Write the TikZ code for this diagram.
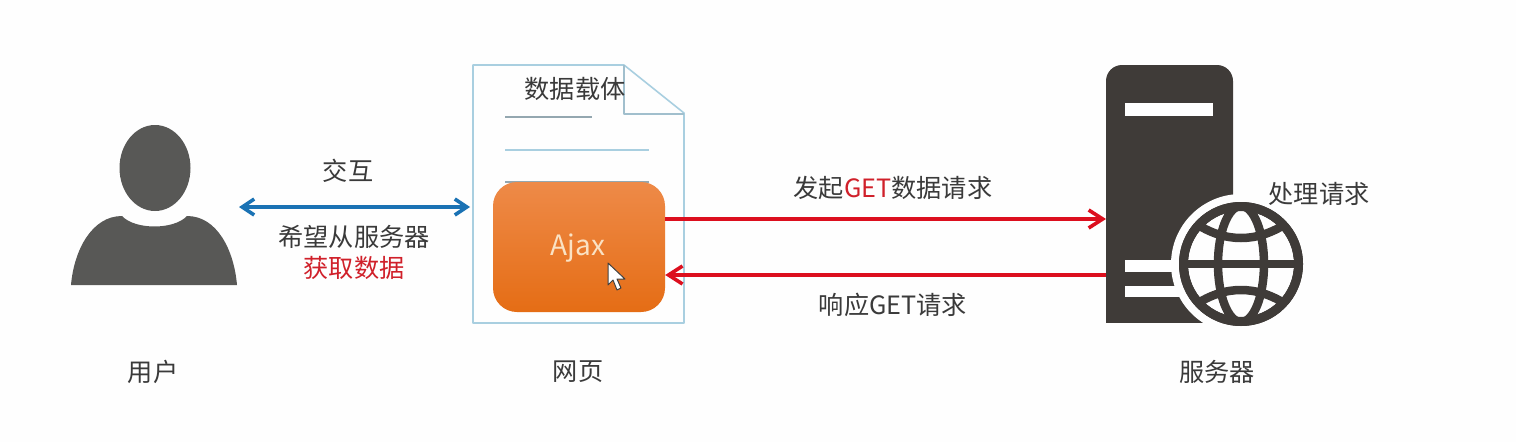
\documentclass[tikz,border=0pt]{standalone}
\usepackage{fontspec}
\setmainfont{Noto Sans CJK SC}
\usetikzlibrary{arrows.meta}
\definecolor{txt}{HTML}{3A3A3A}
\definecolor{redt}{HTML}{D0202A}
\definecolor{arrowred}{HTML}{DC0F1E}
\definecolor{arrowblue}{HTML}{1A72B4}
\definecolor{person}{HTML}{585856}
\definecolor{srv}{HTML}{3F3B38}
\definecolor{docline}{HTML}{A9CFE0}
\definecolor{paper}{HTML}{FEFEFE}
\tikzset{
  lbl/.style={font=\fontsize{25.2}{28}\selectfont,text=txt,inner sep=0pt},
  linkarrow/.style={line width=3.6pt,{Straight Barb[length=12pt,width=16pt,line width=3.6pt]}-{Straight Barb[length=12pt,width=16pt,line width=3.6pt]}},
  oneway/.style={line width=3.6pt,-{Straight Barb[length=14pt,width=18pt,line width=3.6pt]}},
  docstroke/.style={draw=docline,line width=1.6pt,line join=round},
  globeline/.style={draw=srv,line width=8.5pt},
}
\begin{document}
\begin{tikzpicture}[x=1pt,y=-1pt]
\useasboundingbox (0,0) rectangle (1516,442);
\fill[paper] (0,0) rectangle (1516,442);

% user
\fill[person] (155,168) ellipse [x radius=35.5,y radius=43];
\fill[person] (71,285) .. controls (74,250) and (92,216) .. (122,216)
  .. controls (135,230) and (174,230) .. (187,216)
  .. controls (217,216) and (234,250) .. (237,285) -- cycle;

% page
\draw[docstroke] (473,65) -- (624,65) -- (684,113) -- (684,323) -- (473,323) -- cycle;
\draw[docstroke,draw=docline!80!gray] (624,65) -- (624,114) -- (684,114);
\draw[draw=docline!50!gray,line width=1.5pt] (505,117) -- (592,117);
\draw[draw=docline,line width=1.5pt] (505,150) -- (649,150);
\draw[draw=docline!50!gray,line width=1.5pt] (505,182) -- (649,182);
\node[lbl] (payload) at (575,89) {数据载体};

% Ajax box
\node[minimum width=172pt,minimum height=130pt,inner sep=0pt,rounded corners=24pt,
  shade,top color={rgb,255:red,238;green,138;blue,72},
  middle color={rgb,255:red,241;green,122;blue,36},
  bottom color={rgb,255:red,229;green,109;blue,21}] (ajax) at (579,247) {};
\node[font=\fontsize{28}{30}\selectfont,text={rgb,255:red,250;green,226;blue,196},inner sep=0pt] (ajaxtext) at (578,248) {Ajax};
% cursor
\filldraw[fill=white,draw=black!75,line width=1pt,line join=round]
  (608,263) -- (608,285) -- (613,280) -- (617,290) -- (621,288) -- (617,279) -- (625,279) -- cycle;

% server
\fill[srv,rounded corners=16pt] (1106,340) -- (1106,65) -- (1233,65) -- (1233,340) -- cycle;
\fill[paper] (1100,323) rectangle (1240,345);
\fill[white] (1125,103) rectangle (1213,116);
\fill[white] (1125,260) rectangle (1180,272);
\fill[white] (1125,286) rectangle (1180,297);
\fill[paper] (1241,264) circle [radius=70];
\fill[srv] (1241,264) circle [radius=62];
\fill[paper] (1241,264) circle [radius=53];
\begin{scope}
  \clip (1241,264) circle [radius=55];
  \draw[globeline] (1180,264) -- (1302,264);
  \draw[globeline] (1241,264) ellipse [x radius=23,y radius=58];
  \draw[globeline] (1195,223) .. controls (1225,243) and (1257,243) .. (1287,223);
  \draw[globeline] (1195,305) .. controls (1225,285) and (1257,285) .. (1287,305);
\end{scope}
\draw[srv,line width=9pt] (1241,264) circle [radius=57.5];

% connector ends
\coordinate (userEnd) at (239,207);
\coordinate (pageEnd) at (470,207);
\coordinate (reqStart) at (ajax.east |- 0,219);
\coordinate (reqEnd) at (1106,219);
\coordinate (respStart) at (1106,275);
\coordinate (respEnd) at (ajax.east |- 0,275);

\draw[linkarrow,arrowblue] (userEnd) -- (pageEnd);
\draw[oneway,arrowred] (reqStart) -- (reqEnd);
\draw[oneway,arrowred] (respStart) -- (respEnd);

% labels
\node[lbl] (hudong) at (348,171) {交互};
\node[lbl] (want) at (354,237) {希望从服务器};
\node[lbl,text=redt] (get) at (354,268) {获取数据};
\node[lbl] (send) at (893,188) {发起{\color{redt}GET}数据请求};
\node[lbl] (respond) at (893,305) {响应GET请求};
\node[lbl] (proc) at (1319,194) {处理请求};
\node[lbl] (yonghu) at (153,372) {用户};
\node[lbl] (wangye) at (578,372) {网页};
\node[lbl] (fuwuqi) at (1217,372) {服务器};
\end{tikzpicture}
\end{document}
